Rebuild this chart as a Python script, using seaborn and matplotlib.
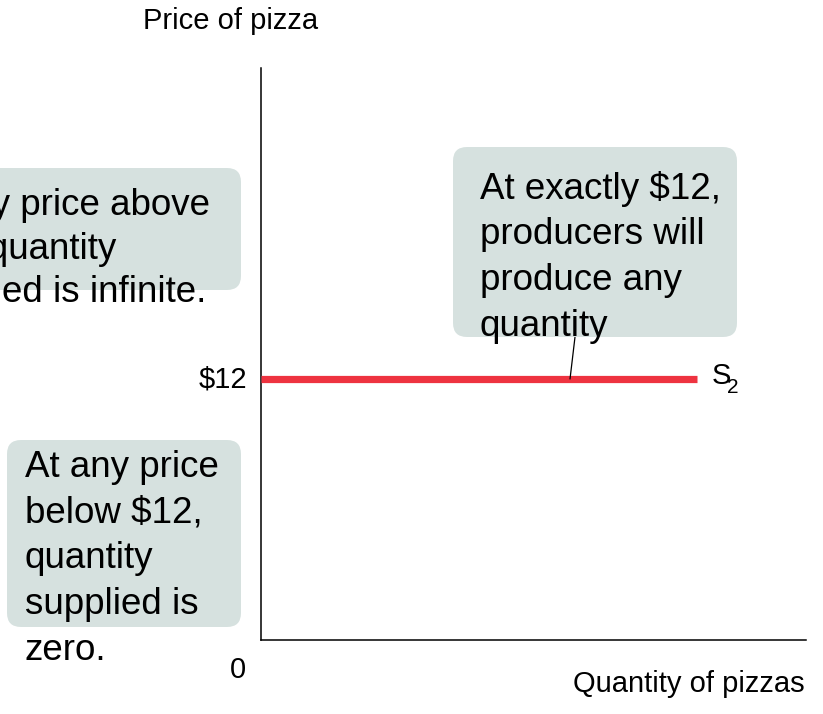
import matplotlib
matplotlib.use("Agg")
import matplotlib.pyplot as plt
from matplotlib.patches import FancyBboxPatch
import seaborn as sns
import pandas as pd

# Perfectly elastic supply curve S2 at a price of $12
quantity = [0.0, 8.0]
price = [12.0, 12.0]
curve_label = "S"
curve_sub = "2"
price_tick = "$12"
origin_label = "0"
x_label = "Quantity of pizzas"
y_label = "Price of pizza"
note_above = "At any price above\n$12, quantity\nsupplied is infinite."
note_exact = "At exactly $12,\nproducers will\nproduce any\nquantity"
note_below = "At any price\nbelow $12,\nquantity\nsupplied is\nzero."

sns.set_theme(style="white")
plt.rcParams["font.family"] = ["Liberation Sans", "DejaVu Sans"]

W, H = 823, 714
fig = plt.figure(figsize=(W / 100, H / 100), dpi=100)
fig.patch.set_facecolor("white")


def fx(x):
    return x / W


def fy(y):
    return 1 - y / H


ax_l, ax_r, ax_t, ax_b = 261, 806, 68, 640
ax = fig.add_axes([fx(ax_l), fy(ax_b), fx(ax_r - ax_l), (ax_b - ax_t) / H])
ax.set_facecolor("none")

df = pd.DataFrame({"quantity": quantity, "price": price})
sns.lineplot(data=df, x="quantity", y="price", ax=ax, color="#ee3340",
             linewidth=5.2, solid_capstyle="butt", zorder=4)

ax.set_xlim(0, 10)
ax.set_ylim(0, 26.3)
ax.set_xticks([])
ax.set_yticks([])
ax.set_xlabel("")
ax.set_ylabel("")
for side in ["top", "right"]:
    ax.spines[side].set_visible(False)
for side in ["left", "bottom"]:
    ax.spines[side].set_color("black")
    ax.spines[side].set_linewidth(1.1)

box_color = "#d6e1df"


def add_box(x0, y0, x1, y1):
    pad = 14
    box = FancyBboxPatch((fx(x0 + pad), fy(y1 - pad)),
                         fx(x1 - x0 - 2 * pad), (y1 - y0 - 2 * pad) / H,
                         boxstyle=f"round,pad={pad / W},rounding_size={pad / W}",
                         transform=fig.transFigure, facecolor=box_color,
                         edgecolor="none", zorder=1, mutation_aspect=W / H)
    fig.patches.append(box)


add_box(-40, 168, 241, 290)
add_box(453, 147, 737, 337)
add_box(7, 440, 241, 627)

# Callout texts are anchored on the baseline of their last line
note_size = 26.5
fig.text(fx(210), fy(302), note_above, ha="right", va="baseline",
         multialignment="left", fontsize=note_size, linespacing=1.3,
         color="black", zorder=3)
fig.text(fx(480), fy(336), note_exact, ha="left", va="baseline",
         fontsize=note_size, linespacing=1.4, color="black", zorder=3)
fig.text(fx(25), fy(660), note_below, ha="left", va="baseline",
         fontsize=note_size, linespacing=1.4, color="black", zorder=3)

# Leader from the callout down to the supply curve
ax.annotate("", xy=(5.67, price[0]), xycoords="data",
            xytext=(575, H - 337), textcoords="figure pixels",
            arrowprops=dict(arrowstyle="-", color="black", lw=0.9,
                            shrinkA=0, shrinkB=0), zorder=5)

label_size = 21
ax.text(-14 / (ax_r - ax_l) * 10, price[0], price_tick, ha="right",
        va="center", fontsize=label_size, color="black")
fig.text(fx(712), fy(376), curve_label, ha="left", va="center",
         fontsize=label_size, color="black")
fig.text(fx(727), fy(388), curve_sub, ha="left", va="center",
         fontsize=15, color="black")
fig.text(fx(238), fy(670), origin_label, ha="center", va="center",
         fontsize=label_size, color="black")
fig.text(fx(143), fy(21), y_label, ha="left", va="center",
         fontsize=label_size, color="black")
fig.text(fx(805), fy(684), x_label, ha="right", va="center",
         fontsize=label_size, color="black")

fig.savefig("out.png", dpi=100, facecolor="white")
